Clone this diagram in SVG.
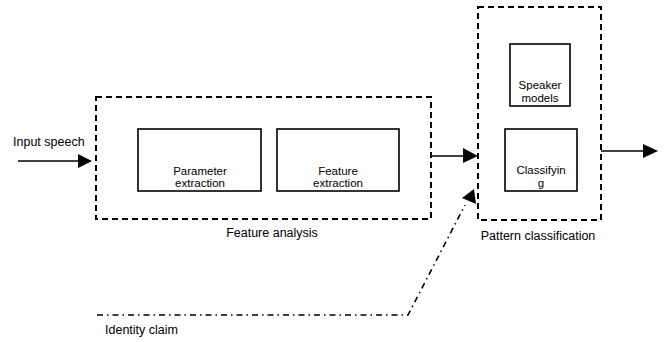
<svg xmlns="http://www.w3.org/2000/svg" width="672" height="342" viewBox="0 0 672 342">
<style>
.grp{fill:none;stroke:#000;stroke-width:2;stroke-dasharray:6 4}
.box{fill:#fff;stroke:#000;stroke-width:1.6}
.t{font-family:"Liberation Sans",Arial,sans-serif;font-size:11.5px;fill:#000;text-anchor:middle}
.lbl{font-family:"Liberation Sans",Arial,sans-serif;font-size:12.5px;fill:#000}
.ln{fill:none;stroke:#000;stroke-width:1.6}
.dd{fill:none;stroke:#000;stroke-width:1.6;stroke-dasharray:6 4 1.5 4}
</style>
<rect width="672" height="342" fill="#fff"/>
<g id="feature-analysis">
<rect class="grp" x="96" y="97" width="335" height="122"/>
<text class="lbl" x="272" y="237" text-anchor="middle">Feature analysis</text>
</g>
<g id="parameter-extraction">
<rect class="box" x="138" y="129" width="123" height="62"/>
<text class="t" x="200" y="175">Parameter</text>
<text class="t" x="200" y="187">extraction</text>
</g>
<g id="feature-extraction">
<rect class="box" x="277" y="129" width="122" height="62"/>
<text class="t" x="338" y="175">Feature</text>
<text class="t" x="338" y="187">extraction</text>
</g>
<g id="pattern-classification">
<rect class="grp" x="478" y="7" width="123" height="213"/>
<text class="lbl" x="538" y="240" text-anchor="middle">Pattern classification</text>
</g>
<g id="speaker-models">
<rect class="box" x="510" y="44" width="60" height="62"/>
<text class="t" x="540" y="89">Speaker</text>
<text class="t" x="540" y="102">models</text>
</g>
<g id="classifying">
<rect class="box" x="505" y="129" width="72" height="62"/>
<text class="t" x="541" y="174">Classifyin</text>
<text class="t" x="541" y="187">g</text>
</g>
<g id="input-speech">
<text class="lbl" x="13" y="146">Input speech</text>
</g>
<g id="identity-claim">
<text class="lbl" x="105" y="334">Identity claim</text>
</g>
<g id="connectors">
<line class="ln" x1="18" y1="161" x2="80" y2="161"/>
<polygon points="78,154 92,161 78,168" fill="#000"/>
<line class="ln" x1="431" y1="156" x2="464" y2="156"/>
<polygon points="463,148 478,156 463,163" fill="#000"/>
<line class="ln" x1="601" y1="151" x2="644" y2="151"/>
<polygon points="643,144 658,151 643,158" fill="#000"/>
<polyline class="dd" points="97,315 408,315 465,205"/>
<polygon points="474,189 462,198 476,204" fill="#000"/>
</g>
</svg>
